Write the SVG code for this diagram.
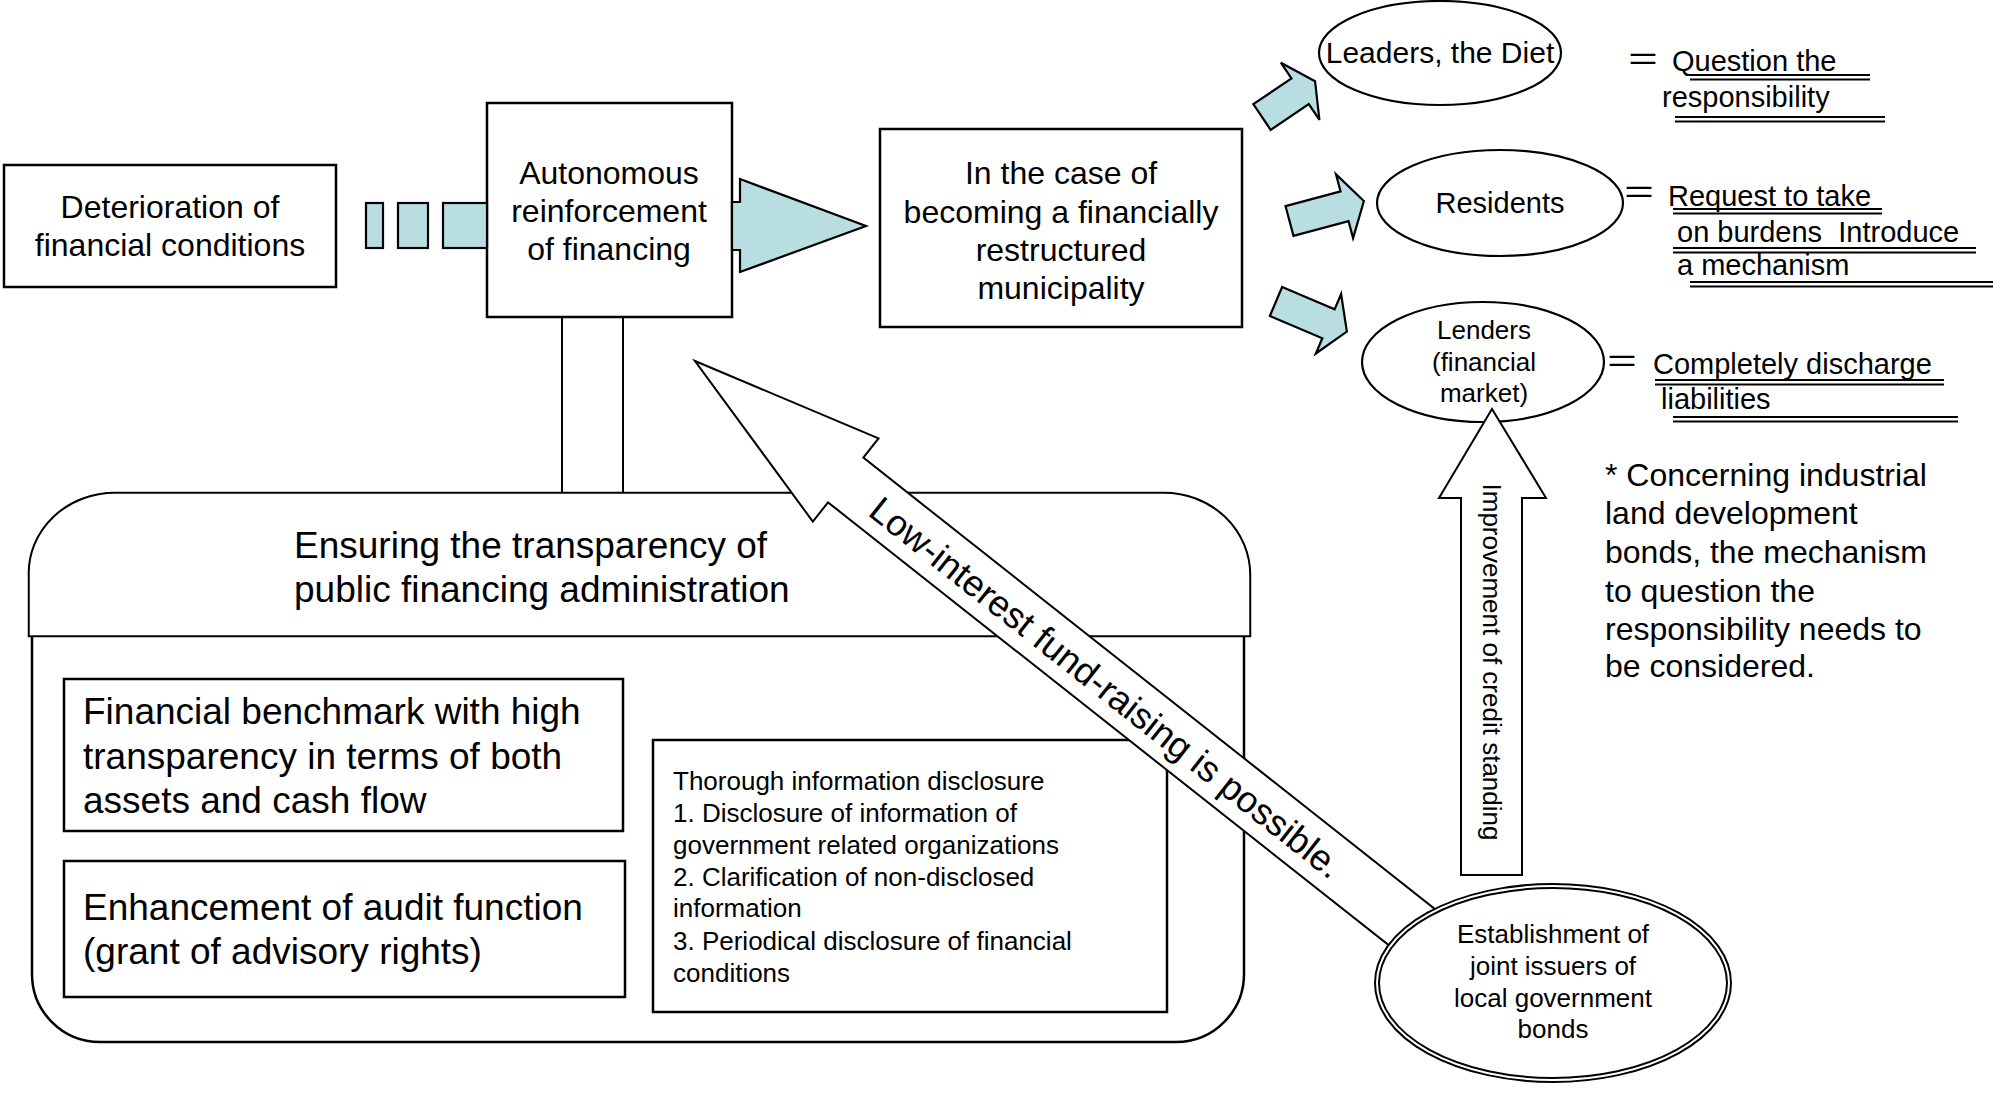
<svg xmlns="http://www.w3.org/2000/svg" width="1993" height="1095" viewBox="0 0 1993 1095">
<style>
text{font-family:"Liberation Sans",Arial,sans-serif;fill:#000}
.box{fill:#fff;stroke:#000;stroke-width:2.5}
.ell{fill:#fff;stroke:#000;stroke-width:2.2}
.blue{fill:#b9dee1;stroke:#000;stroke-width:2.2}
.warr{fill:#fff;stroke:#000;stroke-width:2}
.f32{font-size:32px}
.f37{font-size:37px}
.f29{font-size:29px}
.f26{font-size:26px}
.c{text-anchor:middle}
.ul{stroke:#000;stroke-width:2}
.eq{font-family:"Noto Sans CJK JP",sans-serif;font-size:34px;text-anchor:middle}
</style>
<rect width="1993" height="1095" fill="#fff"/>

<g id="links-lines">
<line x1="562" y1="317" x2="562" y2="495" stroke="#000" stroke-width="2"/>
<line x1="623" y1="317" x2="623" y2="495" stroke="#000" stroke-width="2"/>
</g>

<g id="deterioration">
<rect class="box" x="4" y="165" width="332" height="122"/>
<text class="f32 c" x="170" y="218">Deterioration of</text>
<text class="f32 c" x="170" y="256">financial conditions</text>
</g>

<g id="autonomous">
<rect class="box" x="487" y="103" width="245" height="214"/>
<text class="f32 c" x="609" y="184">Autonomous</text>
<text class="f32 c" x="609" y="222">reinforcement</text>
<text class="f32 c" x="609" y="260">of financing</text>
</g>

<g id="restructured">
<rect class="box" x="880" y="129" width="362" height="198"/>
<text class="f32 c" x="1061" y="184">In the case of</text>
<text class="f32 c" x="1061" y="223">becoming a financially</text>
<text class="f32 c" x="1061" y="261">restructured</text>
<text class="f32 c" x="1061" y="299">municipality</text>
</g>

<g id="leaders">
<ellipse class="ell" cx="1440" cy="53" rx="121" ry="52"/>
<text class="c" style="font-size:30px" x="1440" y="63">Leaders, the Diet</text>
</g>

<g id="residents">
<ellipse class="ell" cx="1500" cy="203" rx="123" ry="53"/>
<text class="f29 c" x="1500" y="213">Residents</text>
</g>

<g id="lenders">
<ellipse class="ell" cx="1483" cy="362" rx="121" ry="60"/>
<text class="f26 c" x="1484" y="339">Lenders</text>
<text class="f26 c" x="1484" y="371">(financial</text>
<text class="f26 c" x="1484" y="402">market)</text>
</g>

<g id="label-leaders">
<text class="eq" x="1643" y="72">＝</text>
<text class="f29" x="1672" y="71">Question the</text>
<text class="f29" x="1662" y="107">responsibility</text>
<line class="ul" x1="1690" y1="75" x2="1870" y2="75"/>
<line class="ul" x1="1690" y1="79.5" x2="1870" y2="79.5"/>
<line class="ul" x1="1675" y1="117" x2="1885" y2="117"/>
<line class="ul" x1="1675" y1="121.5" x2="1885" y2="121.5"/>
</g>

<g id="label-residents">
<text class="eq" x="1639" y="205">＝</text>
<text class="f29" x="1668" y="206">Request to take</text>
<text class="f29" x="1677" y="242" style="white-space:pre">on burdens  Introduce</text>
<text class="f29" x="1677" y="275">a mechanism</text>
<line class="ul" x1="1673" y1="209" x2="1882" y2="209"/>
<line class="ul" x1="1673" y1="213.5" x2="1882" y2="213.5"/>
<line class="ul" x1="1673" y1="248" x2="1976" y2="248"/>
<line class="ul" x1="1673" y1="252.5" x2="1976" y2="252.5"/>
<line class="ul" x1="1690" y1="282" x2="1993" y2="282"/>
<line class="ul" x1="1690" y1="286.5" x2="1993" y2="286.5"/>
</g>

<g id="label-lenders">
<text class="eq" x="1622" y="374">＝</text>
<text class="f29" x="1653" y="374">Completely discharge</text>
<text class="f29" x="1661" y="409">liabilities</text>
<line class="ul" x1="1655" y1="380" x2="1944" y2="380"/>
<line class="ul" x1="1655" y1="384.5" x2="1944" y2="384.5"/>
<line class="ul" x1="1673" y1="417" x2="1958" y2="417"/>
<line class="ul" x1="1673" y1="421.5" x2="1958" y2="421.5"/>
</g>

<g id="note">
<text class="f32" x="1605" y="486">* Concerning industrial</text>
<text class="f32" x="1605" y="524">land development</text>
<text class="f32" x="1605" y="563">bonds, the mechanism</text>
<text class="f32" x="1605" y="602">to question the</text>
<text class="f32" x="1605" y="640">responsibility needs to</text>
<text class="f32" x="1605" y="677">be considered.</text>
</g>

<g id="transparency">
<path d="M32,634 H1244 V974 A68,68 0 0 1 1176,1042 H100 A68,68 0 0 1 32,974 Z" fill="#fff" stroke="#000" stroke-width="2.5"/>
<path d="M31,634 V575 A84,78 0 0 1 115,495 H1164 A84,80 0 0 1 1248,575 V634 Z" fill="#fff" stroke="#000" stroke-width="6.5"/>
<path d="M31,634 V575 A84,78 0 0 1 115,495 H1164 A84,80 0 0 1 1248,575 V634 Z" fill="#fff" stroke="#fff" stroke-width="2.5"/>
<text class="f37" x="294" y="558">Ensuring the transparency of</text>
<text class="f37" x="294" y="602">public financing administration</text>
</g>

<g id="benchmark">
<rect class="box" x="64" y="679" width="559" height="152"/>
<text class="f37" x="83" y="724">Financial benchmark with high</text>
<text class="f37" x="83" y="769">transparency in terms of both</text>
<text class="f37" x="83" y="813">assets and cash flow</text>
</g>

<g id="audit">
<rect class="box" x="64" y="861" width="561" height="136"/>
<text class="f37" x="83" y="920">Enhancement of audit function</text>
<text class="f37" x="83" y="964">(grant of advisory rights)</text>
</g>

<g id="disclosure">
<rect class="box" x="653" y="740" width="514" height="272"/>
<text class="f26" x="673" y="790">Thorough information disclosure</text>
<text class="f26" x="673" y="822">1. Disclosure of information of</text>
<text class="f26" x="673" y="854">government related organizations</text>
<text class="f26" x="673" y="886">2. Clarification of non-disclosed</text>
<text class="f26" x="673" y="917">information</text>
<text class="f26" x="673" y="950">3. Periodical disclosure of financial</text>
<text class="f26" x="673" y="982">conditions</text>
</g>

<g id="connectors">
<rect class="blue" x="366" y="203" width="17" height="45"/>
<rect class="blue" x="398" y="203" width="30" height="45"/>
<rect class="blue" x="443" y="203" width="44" height="45"/>
<polygon class="blue" points="732,202 740,202 740,179 866,226 740,272 740,250 732,250"/>
<polygon class="blue" transform="translate(1262,117) rotate(-34)" points="0,-15.5 46,-15.5 46,-34.5 64,0 46,34.5 46,15.5 0,15.5"/>
<polygon class="blue" transform="translate(1289.5,221) rotate(-15)" points="0,-15.4 57,-15.4 57,-33 77,0 57,33 57,15.4 0,15.4"/>
<polygon class="blue" transform="translate(1276,301.5) rotate(23)" points="0,-15.7 57,-15.7 57,-32.3 77,0 57,32.3 57,15.7 0,15.7"/>
<g transform="translate(695,361) rotate(38.3)">
<polygon class="warr" points="0,0 192,-53 192,-28.5 950,-28.5 950,28.5 192,28.5 192,53"/>
<text x="525" y="14" class="c" style="font-size:36.5px">Low-interest fund-raising is possible.</text>
</g>
<polygon class="warr" points="1492,409 1546,498 1522,498 1522,875 1461,875 1461,498 1439,498"/>
<text class="f26 c" transform="translate(1492,662) rotate(90)" x="0" y="9">Improvement of credit standing</text>
</g>

<g id="joint-issuers">
<ellipse cx="1553" cy="983" rx="176" ry="97" fill="#fff" stroke="#000" stroke-width="6"/>
<ellipse cx="1553" cy="983" rx="176" ry="97" fill="none" stroke="#fff" stroke-width="2"/>
<text class="f26 c" x="1553" y="943">Establishment of</text>
<text class="f26 c" x="1553" y="975">joint issuers of</text>
<text class="f26 c" x="1553" y="1007">local government</text>
<text class="f26 c" x="1553" y="1038">bonds</text>
</g>
</svg>
